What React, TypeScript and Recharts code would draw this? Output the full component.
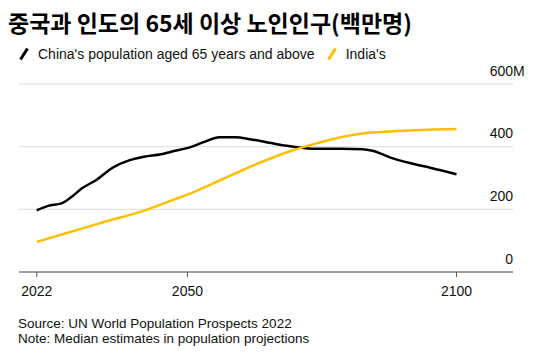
import { LineChart, Line, XAxis, YAxis, CartesianGrid } from "recharts";

const chinaYears = [2022, 2024.1, 2026.6, 2028.5, 2030.4, 2033, 2036.2, 2039.3, 2041.9, 2045.1, 2047, 2050.1, 2053.3, 2055.9, 2059, 2061.6, 2066, 2070.5, 2073.6, 2078.7, 2082.5, 2084.4, 2087.6, 2091.5, 2095.3, 2100];
const chinaValues = [197, 211, 219, 240, 267, 293, 334, 357, 368, 376, 384, 396, 416, 430, 430, 424, 410, 398, 393, 393, 392, 387, 366, 347, 332, 312];

const indiaYears = [2022, 2027.9, 2034.2, 2041.8, 2047, 2051.7, 2056.5, 2062.8, 2069.2, 2074.3, 2078.7, 2082.5, 2088.2, 2094.6, 2100];
const indiaValues = [96, 126, 158, 195, 228, 259, 296, 344, 386, 412, 431, 442, 449, 454, 456];

const xTicks = [2022, 2050, 2100];
const yTicks = [0, 200, 400, 600];

const chinaData = chinaYears.map((year, i) => ({ year, value: chinaValues[i] }));
const indiaData = indiaYears.map((year, i) => ({ year, value: indiaValues[i] }));

const BLACK = "#000000";
const YELLOW = "#fcbf00";
const FONT = "'Liberation Sans', Arial, sans-serif";

const YTick = ({ x, y, payload }: { x?: number; y?: number; payload?: { value: number } }) => {
  const v = payload?.value ?? 0;
  const ty = (y ?? 0) - 8.5;
  return (
    <g>
      <text x={x} y={ty} textAnchor="end" fontSize={14} fill="#111" fontFamily={FONT}>
        {v}
      </text>
      {v === 600 && (
        <text x={x} y={ty} textAnchor="start" fontSize={14} fill="#111" fontFamily={FONT}>
          M
        </text>
      )}
    </g>
  );
};

const Slash = ({ color }: { color: string }) => (
  <svg width={10} height={14} style={{ display: "inline-block", verticalAlign: "-2px", marginRight: 9 }}>
    <line x1={1.5} y1={12.5} x2={8.5} y2={1.5} stroke={color} strokeWidth={3} />
  </svg>
);

export default function App() {
  return (
    <div
      style={{
        position: "fixed",
        left: 0,
        top: 0,
        width: 536,
        height: 356,
        background: "#fff",
        fontFamily: FONT,
        color: "#111",
      }}
    >
      <div
        style={{
          position: "absolute",
          left: 8,
          top: 7,
          fontFamily: "'Noto Sans CJK KR', sans-serif",
          fontWeight: 700,
          fontSize: 23,
          lineHeight: "30px",
          color: "#000",
          whiteSpace: "nowrap",
        }}
      >
        중국과 인도의 65세 이상 노인인구(백만명)
      </div>

      <div style={{ position: "absolute", left: 19, top: 45, fontSize: 14, lineHeight: "18px", whiteSpace: "nowrap" }}>
        <Slash color={BLACK} />
        <span style={{ marginRight: 12 }}>China's population aged 65 years and above</span>
        <Slash color={YELLOW} />
        <span>India's</span>
      </div>

      <LineChart width={536} height={356} margin={{ top: 84, right: 0, left: 19, bottom: 0 }}>
        <CartesianGrid horizontal vertical={false} stroke="#dcdcdc" strokeWidth={1} />
        <XAxis
          dataKey="year"
          type="number"
          domain={[2018.7, 2110.5]}
          ticks={xTicks}
          allowDuplicatedCategory={false}
          height={84}
          axisLine={{ stroke: "#555", strokeWidth: 1 }}
          tickLine={{ stroke: "#555" }}
          tickSize={5}
          tickMargin={9}
          tick={{ fontSize: 14, fill: "#111", fontFamily: FONT }}
        />
        <YAxis
          orientation="right"
          type="number"
          domain={[0, 600]}
          ticks={yTicks}
          width={23}
          axisLine={false}
          tickLine={false}
          tickSize={0}
          tickMargin={0}
          tick={<YTick />}
        />
        <Line data={chinaData} dataKey="value" type="monotone" stroke={BLACK} strokeWidth={2.5} dot={false} isAnimationActive={false} />
        <Line data={indiaData} dataKey="value" type="monotone" stroke={YELLOW} strokeWidth={2.5} dot={false} isAnimationActive={false} />
      </LineChart>

      <div style={{ position: "absolute", left: 18, top: 317, fontSize: 13.5, lineHeight: "14.5px", whiteSpace: "nowrap" }}>
        Source: UN World Population Prospects 2022
        <br />
        Note: Median estimates in population projections
      </div>
    </div>
  );
}
